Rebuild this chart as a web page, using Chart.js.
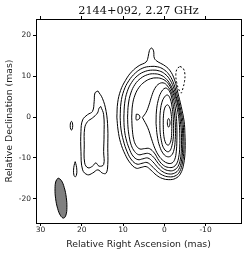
<!DOCTYPE html>
<html>
<head>
<meta charset="utf-8">
<script src="https://cdn.jsdelivr.net/npm/chart.js@4.4.1/dist/chart.umd.min.js"></script>
<style>
  html, body { margin: 0; padding: 0; background: #fff; }
</style>
</head>
<body>
<canvas id="map" width="250" height="255"></canvas>
<script>
// tick positions (mas)
const raTicks = [30, 20, 10, 0, -10];
const decTicks = [20, 10, 0, -10, -20];

// core region contours, outermost first, [RA, Dec] in mas
const core1 = [[11.5,0],[11.3,3.5],[10.6,6.5],[9.4,9],[7.9,11.1],[6.1,12.6],[4.4,13.5],[3.9,14.8],[3.6,16.3],[3.1,16.9],[2.6,16.2],[2.4,14.4],[1.5,13.5],[0.2,12.8],[-1.3,11.5],[-2.5,9.1],[-3.3,5.9],[-4.1,2.6],[-4.8,-1],[-5.0,-4],[-5.05,-8],[-4.7,-11.5],[-3.9,-13.9],[-2.7,-15.0],[-1.1,-15.3],[0.5,-15.0],[1.9,-14.2],[3.2,-13.0],[4.4,-12.1],[5.6,-12.3],[6.8,-12.5],[8.2,-11.3],[9.5,-9.1],[10.6,-6.2],[11.2,-3.2],[11.5,0]];
const core2 = [[10.7,0],[10.5,3.5],[9.8,6.5],[8.6,8.9],[7,10.8],[5.2,12],[3.3,12.4],[1.6,12.3],[0.2,11.7],[-1.0,10.6],[-2.1,8.7],[-3.0,5.8],[-3.8,2.6],[-4.5,-1],[-4.7,-4],[-4.75,-8],[-4.4,-11.2],[-3.7,-13.4],[-2.6,-14.4],[-1.1,-14.6],[0.4,-14.2],[1.7,-13.3],[3.0,-12],[4.2,-11.1],[5.4,-11.3],[6.6,-11.5],[7.9,-10.5],[9,-8.5],[9.9,-5.8],[10.5,-2.9],[10.7,0]];
const core3 = [[9.8,0],[9.6,3.4],[9,6.2],[7.9,8.5],[6.4,10.2],[4.6,11.2],[2.8,11.5],[1.2,11.3],[-0.1,10.6],[-1.2,9.4],[-2.2,7.4],[-2.9,5],[-3.6,2.4],[-4.2,-1],[-4.45,-4],[-4.45,-7.8],[-4.15,-10.8],[-3.5,-12.8],[-2.5,-13.7],[-1.1,-13.9],[0.3,-13.4],[1.5,-12.4],[2.8,-10.9],[4.0,-10.0],[5.2,-10.2],[6.4,-10.4],[7.6,-9.5],[8.5,-7.7],[9.3,-5.2],[9.7,-2.6],[9.8,0]];
const core4 = [[8.9,0],[8.7,3.2],[8.1,5.9],[7.1,8],[5.7,9.5],[4,10.4],[2.4,10.6],[0.9,10.3],[-0.3,9.5],[-1.4,8.1],[-2.3,6.1],[-3.0,4],[-3.5,1.8],[-3.9,-1],[-4.15,-4],[-4.15,-7.6],[-3.9,-10.3],[-3.3,-12.1],[-2.3,-13],[-1.1,-13.1],[0.2,-12.6],[1.4,-11.4],[2.6,-9.8],[3.8,-8.9],[5.0,-9.0],[6.2,-9.2],[7.2,-8.4],[8.0,-6.9],[8.5,-4.8],[8.8,-2.4],[8.9,0]];
const core5 = [[7.9,0],[7.7,3],[7.1,5.4],[6.1,7.3],[4.8,8.6],[3.3,9.4],[1.8,9.6],[0.4,9.3],[-0.7,8.5],[-1.6,7.1],[-2.3,5.3],[-2.85,3.3],[-3.3,1.2],[-3.6,-1],[-3.75,-4],[-3.75,-7.3],[-3.5,-9.8],[-3.0,-11.4],[-2.2,-12.2],[-1.0,-12.3],[0.2,-11.8],[1.3,-10.6],[2.4,-8.8],[3.6,-7.7],[4.8,-7.7],[5.9,-7.8],[6.8,-7],[7.4,-5.5],[7.75,-3],[7.9,0]];
const core6 = [[5.3,-0.1],[4.4,1.2],[3.7,3],[3.1,5],[2.3,7],[1.2,8.2],[0,8.3],[-1.0,7.3],[-1.7,6.1],[-2.2,4.5],[-2.6,2.6],[-2.9,0.4],[-3.05,-2.5],[-3.05,-5.8],[-2.9,-8.5],[-2.55,-10.3],[-1.9,-11.2],[-0.9,-11.3],[0.2,-10.7],[1.3,-9.5],[2.3,-7.6],[3.1,-5.3],[4.0,-2.6],[5.3,-0.1]];
const core7 = [[2.0,-1.5],[1.9,1.5],[1.5,4],[0.8,6],[-0.2,7.1],[-1.0,6.7],[-1.6,5.5],[-2.1,3.3],[-2.5,0.5],[-2.7,-2.5],[-2.65,-5.5],[-2.35,-8],[-1.7,-9.4],[-0.8,-9.7],[0.2,-9],[1.1,-7.2],[1.7,-4.6],[2.0,-1.5]];
const core8 = [[1.07,-1.5],[1.0,1],[0.6,3.5],[-0.1,5],[-0.8,5.4],[-1.4,4.6],[-1.8,3.0],[-2.1,0.8],[-2.25,-2],[-2.2,-4.8],[-1.85,-7],[-1.3,-8.3],[-0.6,-8.4],[0.2,-7.5],[0.7,-5.8],[1.0,-3.7],[1.07,-1.5]];
const core9 = [[0.25,-1.8],[0.2,0.3],[-0.1,2.2],[-0.7,3.0],[-1.2,2.6],[-1.6,1.3],[-1.8,-1],[-1.8,-3.5],[-1.65,-5.5],[-1.2,-6.7],[-0.7,-6.8],[-0.2,-6],[0.15,-4.2],[0.25,-1.8]];
const peak = [[-0.75,-1.4],[-0.8,-0.8],[-1.05,-0.35],[-1.3,-0.8],[-1.4,-1.4],[-1.3,-2.0],[-1.05,-2.45],[-0.8,-2.0],[-0.75,-1.4]];
const knotD = [[6.8,0.7],[6.8,-0.65],[6.3,-0.6],[5.95,-0.2],[5.95,0.25],[6.3,0.65],[6.8,0.7]];

// eastern jet component
const jet1 = [[16.1,6.4],[15.0,4.6],[14.1,1.4],[13.7,-2.7],[13.7,-7.6],[13.7,-11.6],[14.1,-13.7],[15.0,-13.7],[16.1,-12.9],[17.4,-13.7],[18.6,-14.1],[19.8,-12.9],[20.2,-8.4],[20.2,-3.5],[19.8,-0.7],[18.6,0.6],[17.4,1.4],[17.0,3.8],[16.8,5.9],[16.1,6.4]];
const jet2 = [[15.4,2.6],[14.7,0.6],[14.6,-4.3],[14.7,-8.4],[14.7,-11.6],[15.8,-12.0],[16.6,-11.2],[17.4,-12.0],[18.5,-12.4],[19.3,-11.2],[19.4,-6.8],[19.3,-2.7],[18.6,-1.1],[17.4,-0.2],[16.2,1.0],[15.8,2.2],[15.4,2.6]];
const blob1 = [[22.2,-2.1],[22.3,-1.3],[22.5,-1.05],[22.7,-1.3],[22.8,-2.1],[22.7,-2.9],[22.5,-3.15],[22.3,-2.9],[22.2,-2.1]];
const blob2 = [[21.6,-10.9],[21.35,-11.8],[21.2,-13],[21.3,-14.2],[21.6,-14.6],[21.9,-14.2],[22.0,-13],[21.85,-11.8],[21.6,-10.9]];

// negative contour (dashed)
const negative1 = [[-3.8,12.4],[-4.6,11.9],[-5.0,10.5],[-4.9,8.7],[-4.5,7],[-4.1,5.9],[-3.5,6.8],[-3.0,8.5],[-2.8,10.4],[-3.1,11.8],[-3.8,12.4]];

// restoring beam
const beam = [[25.70,-14.90],[26.26,-15.64],[26.49,-17.50],[26.34,-19.97],[25.84,-22.40],[25.13,-24.13],[24.40,-24.70],[23.84,-23.96],[23.61,-22.11],[23.76,-19.63],[24.26,-17.20],[24.97,-15.47],[25.70,-14.90]];

const toPts = arr => arr.map(p => ({ x: p[0], y: p[1] }));

const solid = [core1, core2, core3, core4, core5, core6, core7, core8, core9, peak, knotD, jet1, jet2, blob1, blob2];
const datasets = solid.map(c => ({
  data: toPts(c),
  showLine: true,
  borderColor: '#000',
  borderWidth: 1,
  pointRadius: 0,
  tension: 0.4,
  fill: false
}));
datasets.push({
  data: toPts(negative1),
  showLine: true,
  borderColor: '#000',
  borderWidth: 1,
  borderDash: [2, 2],
  pointRadius: 0,
  tension: 0.4,
  fill: false
});
datasets.push({
  data: toPts(beam),
  showLine: true,
  borderColor: '#000',
  borderWidth: 1,
  backgroundColor: '#808080',
  pointRadius: 0,
  tension: 0.4,
  fill: 'shape'
});

const tickFont = { family: 'DejaVu Sans', size: 7.5 };
const titleFont = { family: 'DejaVu Sans', size: 9.3 };
const setTicks = vals => axis => { axis.ticks = vals.map(v => ({ value: v })); };
const frameGrid = { drawOnChartArea: false, tickLength: 3, color: '#000' };

new Chart(document.getElementById('map'), {
  type: 'scatter',
  data: { datasets: datasets },
  options: {
    responsive: false,
    animation: false,
    layout: { padding: { right: 9 } },
    plugins: { legend: { display: false }, tooltip: { enabled: false } },
    scales: {
      x: {
        type: 'linear', position: 'bottom', min: -18.6, max: 31.1, reverse: true,
        afterBuildTicks: setTicks(raTicks),
        afterFit: s => { s.height = 32; },
        grid: frameGrid,
        border: { color: '#000' },
        ticks: { font: tickFont, color: '#222', padding: 0, maxRotation: 0, autoSkip: false, callback: v => String(v) },
        title: { display: true, text: 'Relative Right Ascension (mas)', font: titleFont, color: '#222', padding: { top: 0, bottom: 4.4 } }
      },
      y: {
        type: 'linear', position: 'left', min: -25.9, max: 24,
        afterBuildTicks: setTicks(decTicks),
        afterFit: s => { s.width = 36; },
        grid: frameGrid,
        border: { color: '#000' },
        ticks: { font: tickFont, color: '#222', padding: 2, autoSkip: false, callback: v => String(v) },
        title: { display: true, text: 'Relative Declination (mas)', font: titleFont, color: '#222', padding: { top: 4.4, bottom: 0 } }
      },
      x2: {
        type: 'linear', position: 'top', min: -18.6, max: 31.1, reverse: true,
        afterBuildTicks: setTicks(raTicks),
        afterFit: s => { s.height = 19; },
        grid: frameGrid,
        border: { color: '#000' },
        ticks: { display: false },
        title: { display: true, text: '2144+092, 2.27 GHz', font: { family: 'DejaVu Serif', size: 11.3 }, color: '#111', padding: { top: 4.2, bottom: 0 } }
      },
      y2: {
        type: 'linear', position: 'right', min: -25.9, max: 24,
        afterBuildTicks: setTicks(decTicks),
        afterFit: s => { s.width = 0; },
        grid: frameGrid,
        border: { color: '#000' },
        ticks: { display: false }
      }
    }
  }
});
</script>
</body>
</html>
